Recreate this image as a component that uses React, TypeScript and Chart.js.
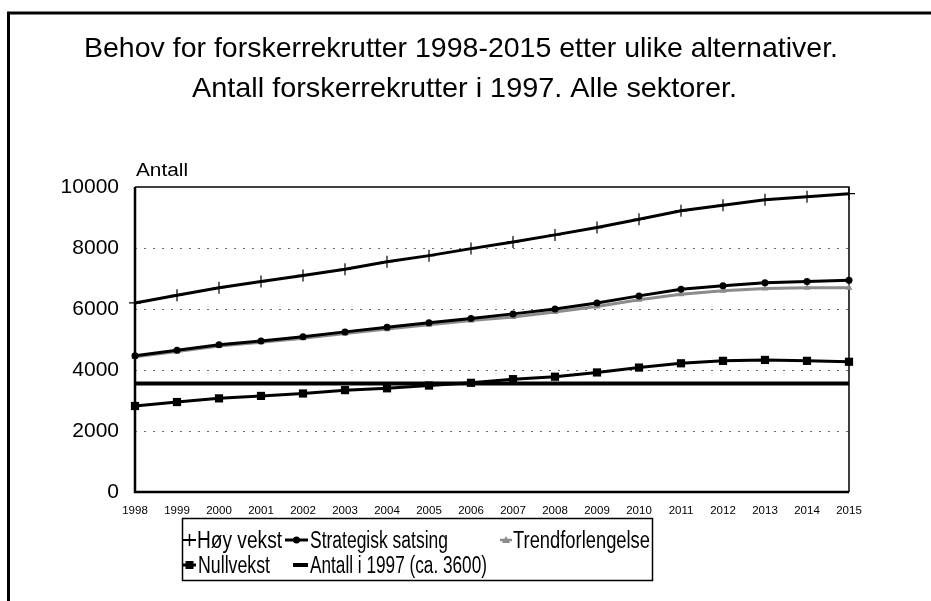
import React, { useEffect, useRef } from "react";
import { Chart, registerables } from "chart.js";

Chart.register(...registerables);

const years = ["1998", "1999", "2000", "2001", "2002", "2003", "2004", "2005", "2006", "2007", "2008", "2009", "2010", "2011", "2012", "2013", "2014", "2015"];
const hoyVekst = [6200, 6450, 6700, 6900, 7100, 7300, 7550, 7750, 7980, 8200, 8430, 8670, 8940, 9220, 9400, 9580, 9680, 9780];
const strategiskSatsing = [4470, 4650, 4830, 4950, 5090, 5250, 5400, 5550, 5690, 5840, 6000, 6200, 6430, 6650, 6760, 6860, 6900, 6940];
const trendforlengelse = [4430, 4610, 4790, 4910, 5040, 5200, 5340, 5480, 5620, 5740, 5900, 6080, 6300, 6480, 6600, 6670, 6700, 6700];
const nullvekst = [2820, 2950, 3070, 3150, 3230, 3340, 3400, 3490, 3580, 3700, 3780, 3920, 4080, 4220, 4300, 4330, 4300, 4270];
const antall1997 = [3560, 3560, 3560, 3560, 3560, 3560, 3560, 3560, 3560, 3560, 3560, 3560, 3560, 3560, 3560, 3560, 3560, 3560];
const yTicks = [0, 2000, 4000, 6000, 8000, 10000];

const titleLines = [
  "Behov for forskerrekrutter 1998-2015 etter ulike alternativer.",
  "Antall forskerrekrutter i 1997. Alle sektorer.",
];
const yAxisTitle = "Antall";
const seriesNames = ["Høy vekst", "Strategisk satsing", "Trendforlengelse", "Nullvekst", "Antall i 1997 (ca. 3600)"];

const FONT = '"Liberation Sans", Arial, Helvetica, sans-serif';
const GRAY = "#8c8c8c";

function fitText(ctx: CanvasRenderingContext2D, text: string, x: number, y: number, size: number, width: number, align: CanvasTextAlign) {
  ctx.save();
  ctx.font = `${size}px ${FONT}`;
  const w = ctx.measureText(text).width;
  const s = width / w;
  ctx.translate(x, y);
  ctx.scale(s, 1);
  ctx.textAlign = align;
  ctx.textBaseline = "alphabetic";
  ctx.fillStyle = "#000";
  ctx.fillText(text, 0, 0);
  ctx.restore();
}

const decorPlugin = {
  id: "decor",
  beforeDraw(chart: any) {
    const ctx: CanvasRenderingContext2D = chart.ctx;
    ctx.save();
    ctx.fillStyle = "#fff";
    ctx.fillRect(0, 0, chart.width, chart.height);
    ctx.strokeStyle = "#000";
    ctx.lineWidth = 3;
    ctx.beginPath();
    ctx.moveTo(8.5, chart.height + 5);
    ctx.lineTo(8.5, 13);
    ctx.lineTo(chart.width + 5, 13);
    ctx.stroke();
    ctx.restore();
  },
  beforeDatasetsDraw(chart: any) {
    const ctx: CanvasRenderingContext2D = chart.ctx;
    const a = chart.chartArea;
    ctx.save();
    ctx.strokeStyle = "#000";
    ctx.lineWidth = 1.5;
    ctx.beginPath();
    ctx.moveTo(a.left, a.top);
    ctx.lineTo(a.right, a.top);
    ctx.lineTo(a.right, a.bottom);
    ctx.stroke();
    ctx.lineWidth = 2.5;
    ctx.beginPath();
    ctx.moveTo(a.left, a.top);
    ctx.lineTo(a.left, a.bottom);
    ctx.lineTo(a.right, a.bottom);
    ctx.stroke();
    ctx.restore();
  },
  afterDraw(chart: any) {
    const ctx: CanvasRenderingContext2D = chart.ctx;
    // Title
    fitText(ctx, titleLines[0], 461, 57, 28, 754, "center");
    fitText(ctx, titleLines[1], 464.5, 97, 28, 545, "center");
    // Axis title
    fitText(ctx, yAxisTitle, 136, 176, 18, 52, "left");

    // Legend box
    ctx.save();
    ctx.strokeStyle = "#000";
    ctx.lineWidth = 1.5;
    ctx.strokeRect(182.5, 518.5, 470, 62);

    const r1 = 540;
    const r2 = 565;
    // Høy vekst marker
    ctx.lineWidth = 2;
    ctx.beginPath();
    ctx.moveTo(183, r1);
    ctx.lineTo(196, r1);
    ctx.stroke();
    ctx.lineWidth = 1.5;
    ctx.beginPath();
    ctx.moveTo(189.5, r1 - 6);
    ctx.lineTo(189.5, r1 + 6);
    ctx.stroke();
    // Strategisk marker
    ctx.lineWidth = 3;
    ctx.beginPath();
    ctx.moveTo(285, r1);
    ctx.lineTo(308, r1);
    ctx.stroke();
    ctx.fillStyle = "#000";
    ctx.beginPath();
    ctx.arc(296.5, r1, 3.5, 0, Math.PI * 2);
    ctx.fill();
    // Trend marker
    ctx.strokeStyle = GRAY;
    ctx.fillStyle = GRAY;
    ctx.lineWidth = 2.5;
    ctx.beginPath();
    ctx.moveTo(500, r1);
    ctx.lineTo(512, r1);
    ctx.stroke();
    ctx.beginPath();
    ctx.moveTo(506, r1 - 4);
    ctx.lineTo(510, r1 + 3);
    ctx.lineTo(502, r1 + 3);
    ctx.closePath();
    ctx.fill();
    // Nullvekst marker
    ctx.strokeStyle = "#000";
    ctx.fillStyle = "#000";
    ctx.lineWidth = 3;
    ctx.beginPath();
    ctx.moveTo(183, r2);
    ctx.lineTo(196, r2);
    ctx.stroke();
    ctx.fillRect(185.5, r2 - 4, 8, 8);
    // Antall marker
    ctx.lineWidth = 4;
    ctx.beginPath();
    ctx.moveTo(293, r2);
    ctx.lineTo(308, r2);
    ctx.stroke();
    ctx.restore();

    fitText(ctx, seriesNames[0], 197, r1 + 8, 23, 85, "left");
    fitText(ctx, seriesNames[1], 310, r1 + 8, 23, 138, "left");
    fitText(ctx, seriesNames[2], 513, r1 + 8, 23, 137, "left");
    fitText(ctx, seriesNames[3], 198, r2 + 8, 23, 72, "left");
    fitText(ctx, seriesNames[4], 310, r2 + 8, 23, 177, "left");
  },
};

export default function App() {
  const ref = useRef<HTMLCanvasElement | null>(null);
  useEffect(() => {
    if (!ref.current) return;
    const chart = new Chart(ref.current, {
      type: "line",
      data: {
        labels: years,
        datasets: [
          {
            label: seriesNames[0],
            data: hoyVekst,
            borderColor: "#000",
            borderWidth: 3,
            pointStyle: "cross",
            pointRadius: 6,
            pointBorderWidth: 1.2,
            pointBorderColor: "#000",
            pointBackgroundColor: "#000",
            tension: 0,
            clip: false,
          },
          {
            label: seriesNames[1],
            data: strategiskSatsing,
            borderColor: "#000",
            borderWidth: 3,
            pointStyle: "circle",
            pointRadius: 3.5,
            pointBorderWidth: 0,
            pointBackgroundColor: "#000",
            tension: 0,
            clip: false,
          },
          {
            label: seriesNames[2],
            data: trendforlengelse,
            borderColor: GRAY,
            borderWidth: 3,
            pointStyle: "triangle",
            pointRadius: 4,
            pointBorderWidth: 0,
            pointBackgroundColor: GRAY,
            tension: 0,
            clip: false,
          },
          {
            label: seriesNames[3],
            data: nullvekst,
            borderColor: "#000",
            borderWidth: 3,
            pointStyle: "rect",
            pointRadius: 5.8,
            pointBorderWidth: 0,
            pointBackgroundColor: "#000",
            tension: 0,
            clip: false,
          },
          {
            label: seriesNames[4],
            data: antall1997,
            borderColor: "#000",
            borderWidth: 4,
            pointRadius: 0,
            tension: 0,
            clip: false,
          },
        ],
      },
      options: {
        animation: false,
        responsive: false,
        events: [],
        layout: { padding: { left: 10, top: 187, right: 82, bottom: 79 } },
        plugins: {
          legend: { display: false },
          title: { display: false },
          tooltip: { enabled: false },
        },
        scales: {
          x: {
            type: "category",
            offset: false,
            border: { display: false },
            grid: { display: false, drawTicks: false },
            ticks: {
              autoSkip: false,
              maxRotation: 0,
              padding: 12,
              color: "#000",
              font: { family: FONT, size: 11.5 },
            },
            afterFit: (scale: any) => {
              scale.height = 30;
            },
          },
          y: {
            min: 0,
            max: 10000,
            border: { display: false, dash: [2, 7] },
            grid: {
              drawTicks: false,
              lineWidth: 1,
              color: (c: any) => (c.tick && (c.tick.value === 0 || c.tick.value === 10000) ? "rgba(0,0,0,0)" : "#6a6a6a"),
            },
            afterBuildTicks: (scale: any) => {
              scale.ticks = yTicks.map((v) => ({ value: v }));
            },
            ticks: {
              padding: 16,
              color: "#000",
              font: { family: FONT, size: 21 },
              callback: (v: any) => String(v),
            },
            afterFit: (scale: any) => {
              scale.width = 125;
            },
          },
        },
      },
      plugins: [decorPlugin],
    });
    return () => chart.destroy();
  }, []);
  return (
    <div style={{ position: "absolute", left: 0, top: 0, width: 931, height: 601, background: "#fff" }}>
      <canvas ref={ref} width={931} height={601} style={{ display: "block" }} />
    </div>
  );
}
